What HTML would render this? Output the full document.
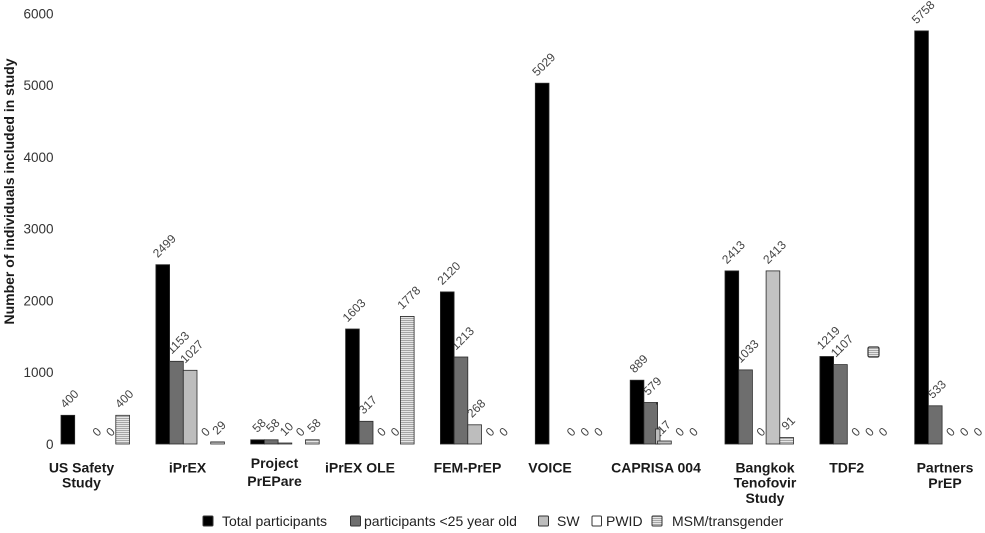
<!DOCTYPE html>
<html>
<head>
<meta charset="utf-8">
<style>
  html,body{margin:0;padding:0;background:#fff;}
  svg{display:block;}
  .tick{font-family:"Liberation Sans",sans-serif;font-size:13.5px;fill:#333;}
  .val{font-family:"Liberation Sans",sans-serif;font-size:12px;fill:#444;}
  .cat{font-family:"Liberation Sans",sans-serif;font-size:14px;font-weight:bold;fill:#1a1a1a;}
  .leg{font-family:"Liberation Sans",sans-serif;font-size:14px;fill:#222;}
  .ttl{font-family:"Liberation Sans",sans-serif;font-size:14px;font-weight:bold;fill:#1a1a1a;}
</style>
</head>
<body>
<svg width="985" height="533" viewBox="0 0 985 533" xmlns="http://www.w3.org/2000/svg">
<defs>
  <pattern id="st" patternUnits="userSpaceOnUse" width="4" height="2">
    <rect x="0" y="0" width="4" height="2" fill="#e6e6e6"/>
    <rect x="0" y="0" width="4" height="1" fill="#a6a6a6"/>
  </pattern>
</defs>
<rect width="985" height="533" fill="#fff"/>

<!-- Y axis title -->
<text class="ttl" transform="translate(14,191.5) rotate(-90)" text-anchor="middle">Number of individuals included in study</text>

<!-- Y tick labels -->
<g class="tick" text-anchor="end">
  <text x="53.5" y="448.9">0</text>
  <text x="53.5" y="377.2">1000</text>
  <text x="53.5" y="305.4">2000</text>
  <text x="53.5" y="233.7">3000</text>
  <text x="53.5" y="161.9">4000</text>
  <text x="53.5" y="90.2">5000</text>
  <text x="53.5" y="18.4">6000</text>
</g>

<!-- Value labels (drawn before bars) -->
<g class="val" text-anchor="middle">
  <!-- US Safety -->
  <text transform="translate(69.35,398.7) rotate(-45)" dy="0.35em">400</text>
  <text transform="translate(96.75,431.8) rotate(-45)" dy="0.35em">0</text>
  <text transform="translate(110.45,431.8) rotate(-45)" dy="0.35em">0</text>
  <text transform="translate(124.15,398.7) rotate(-45)" dy="0.35em">400</text>
  <!-- iPrEX -->
  <text transform="translate(164.25,245.9) rotate(-45)" dy="0.35em">2499</text>
  <text transform="translate(177.95,342.5) rotate(-45)" dy="0.35em">1153</text>
  <text transform="translate(191.65,351.5) rotate(-45)" dy="0.35em">1027</text>
  <text transform="translate(205.35,431.8) rotate(-45)" dy="0.35em">0</text>
  <text transform="translate(219.05,427.5) rotate(-45)" dy="0.35em">29</text>
  <!-- Project PrEPare -->
  <text transform="translate(259.05,425.4) rotate(-45)" dy="0.35em">58</text>
  <text transform="translate(272.75,425.4) rotate(-45)" dy="0.35em">58</text>
  <text transform="translate(286.45,428.9) rotate(-45)" dy="0.35em">10</text>
  <text transform="translate(300.15,431.8) rotate(-45)" dy="0.35em">0</text>
  <text transform="translate(313.85,425.4) rotate(-45)" dy="0.35em">58</text>
  <!-- iPrEX OLE -->
  <text transform="translate(353.95,310.2) rotate(-45)" dy="0.35em">1603</text>
  <text transform="translate(367.65,404.7) rotate(-45)" dy="0.35em">317</text>
  <text transform="translate(381.35,431.8) rotate(-45)" dy="0.35em">0</text>
  <text transform="translate(395.05,431.8) rotate(-45)" dy="0.35em">0</text>
  <text transform="translate(408.75,297.6) rotate(-45)" dy="0.35em">1778</text>
  <!-- FEM-PrEP -->
  <text transform="translate(448.75,273.1) rotate(-45)" dy="0.35em">2120</text>
  <text transform="translate(462.45,338.2) rotate(-45)" dy="0.35em">1213</text>
  <text transform="translate(476.15,408.2) rotate(-45)" dy="0.35em">268</text>
  <text transform="translate(489.85,431.8) rotate(-45)" dy="0.35em">0</text>
  <text transform="translate(503.55,431.8) rotate(-45)" dy="0.35em">0</text>
  <!-- VOICE -->
  <text transform="translate(543.65,64.4) rotate(-45)" dy="0.35em">5029</text>
  <text transform="translate(571.05,431.8) rotate(-45)" dy="0.35em">0</text>
  <text transform="translate(584.75,431.8) rotate(-45)" dy="0.35em">0</text>
  <text transform="translate(598.45,431.8) rotate(-45)" dy="0.35em">0</text>
  <!-- CAPRISA 004 -->
  <text transform="translate(638.55,363.6) rotate(-45)" dy="0.35em">889</text>
  <text transform="translate(652.25,385.9) rotate(-45)" dy="0.35em">579</text>
  <text transform="translate(661.5,429.5) rotate(-45)" dy="0.35em">217</text>
  <text transform="translate(679.65,431.8) rotate(-45)" dy="0.35em">0</text>
  <text transform="translate(693.35,431.8) rotate(-45)" dy="0.35em">0</text>
  <!-- Bangkok -->
  <text transform="translate(733.35,252.1) rotate(-45)" dy="0.35em">2413</text>
  <text transform="translate(747.05,351.1) rotate(-45)" dy="0.35em">1033</text>
  <text transform="translate(760.75,431.8) rotate(-45)" dy="0.35em">0</text>
  <text transform="translate(774.45,252.1) rotate(-45)" dy="0.35em">2413</text>
  <text transform="translate(788.15,423.1) rotate(-45)" dy="0.35em">91</text>
  <!-- TDF2 -->
  <text transform="translate(828.25,337.7) rotate(-45)" dy="0.35em">1219</text>
  <text transform="translate(841.95,345.8) rotate(-45)" dy="0.35em">1107</text>
  <text transform="translate(855.65,431.8) rotate(-45)" dy="0.35em">0</text>
  <text transform="translate(869.35,431.8) rotate(-45)" dy="0.35em">0</text>
  <text transform="translate(883.05,431.8) rotate(-45)" dy="0.35em">0</text>
  <!-- Partners PrEP -->
  <text transform="translate(923.05,12.1) rotate(-45)" dy="0.35em">5758</text>
  <text transform="translate(936.75,389.2) rotate(-45)" dy="0.35em">533</text>
  <text transform="translate(950.45,431.8) rotate(-45)" dy="0.35em">0</text>
  <text transform="translate(964.15,431.8) rotate(-45)" dy="0.35em">0</text>
  <text transform="translate(977.85,431.8) rotate(-45)" dy="0.35em">0</text>
</g>

<!-- Bars -->
<g stroke="#2a2a2a" stroke-width="0.8">
  <!-- US Safety -->
  <rect x="61" y="415.3" width="13.7" height="28.7" fill="#000"/>
  <rect x="115.8" y="415.3" width="13.7" height="28.7" fill="url(#st)"/>
  <!-- iPrEX -->
  <rect x="155.9" y="264.7" width="13.7" height="179.3" fill="#000"/>
  <rect x="169.6" y="361.3" width="13.7" height="82.7" fill="#6e6e6e"/>
  <rect x="183.3" y="370.3" width="13.7" height="73.7" fill="#bdbdbd"/>
  <rect x="210.7" y="441.9" width="13.7" height="2.1" fill="url(#st)"/>
  <!-- Project PrEPare -->
  <rect x="250.7" y="439.8" width="13.7" height="4.2" fill="#000"/>
  <rect x="264.4" y="439.8" width="13.7" height="4.2" fill="#6e6e6e"/>
  <rect x="278.1" y="443.0" width="13.7" height="1.0" fill="#bdbdbd"/>
  <rect x="305.5" y="439.8" width="13.7" height="4.2" fill="url(#st)"/>
  <!-- iPrEX OLE -->
  <rect x="345.6" y="329.0" width="13.7" height="115.0" fill="#000"/>
  <rect x="359.3" y="421.3" width="13.7" height="22.7" fill="#6e6e6e"/>
  <rect x="400.4" y="316.4" width="13.7" height="127.6" fill="url(#st)"/>
  <!-- FEM-PrEP -->
  <rect x="440.4" y="291.9" width="13.7" height="152.1" fill="#000"/>
  <rect x="454.1" y="357.0" width="13.7" height="87.0" fill="#6e6e6e"/>
  <rect x="467.8" y="424.8" width="13.7" height="19.2" fill="#bdbdbd"/>
  <!-- VOICE -->
  <rect x="535.3" y="83.2" width="13.7" height="360.8" fill="#000"/>
  <!-- CAPRISA 004 -->
  <rect x="630.2" y="380.2" width="13.7" height="63.8" fill="#000"/>
  <rect x="643.9" y="402.5" width="13.7" height="41.5" fill="#6e6e6e"/>
  <rect x="655.5" y="429.0" width="4.5" height="15.0" fill="#bdbdbd"/>
  <rect x="657.6" y="441.0" width="13.7" height="3.0" fill="#bdbdbd"/>
  <!-- Bangkok -->
  <rect x="725.0" y="270.9" width="13.7" height="173.1" fill="#000"/>
  <rect x="738.7" y="369.9" width="13.7" height="74.1" fill="#6e6e6e"/>
  <rect x="766.1" y="270.9" width="13.7" height="173.1" fill="#c2c2c2"/>
  <rect x="779.8" y="437.5" width="13.7" height="6.5" fill="url(#st)"/>
  <!-- TDF2 -->
  <rect x="819.9" y="356.5" width="13.7" height="87.5" fill="#000"/>
  <rect x="833.6" y="364.6" width="13.7" height="79.4" fill="#6e6e6e"/>
  <rect x="868" y="347" width="11" height="10" rx="1.5" fill="url(#st)" stroke="#333" stroke-width="1.2"/>
  <!-- Partners PrEP -->
  <rect x="914.7" y="30.9" width="13.7" height="413.1" fill="#000"/>
  <rect x="928.4" y="405.8" width="13.7" height="38.2" fill="#6e6e6e"/>
</g>
<rect x="656" y="402" width="1.5" height="2.5" fill="#333"/>

<!-- Category labels -->
<g class="cat" text-anchor="middle">
  <text x="81.5" y="472.5">US Safety</text>
  <text x="81.5" y="487.5">Study</text>
  <text x="187.5" y="472.5">iPrEX</text>
  <text x="274.5" y="468">Project</text>
  <text x="274.5" y="486">PrEPare</text>
  <text x="360" y="472.5">iPrEX OLE</text>
  <text x="467.5" y="472.5">FEM-PrEP</text>
  <text x="550" y="472.5">VOICE</text>
  <text x="656" y="472.5">CAPRISA 004</text>
  <text x="765" y="472.5">Bangkok</text>
  <text x="765" y="487.5">Tenofovir</text>
  <text x="765" y="503">Study</text>
  <text x="846.7" y="472.5">TDF2</text>
  <text x="945" y="472.5">Partners</text>
  <text x="945" y="488">PrEP</text>
</g>

<!-- Legend -->
<g stroke="#333" stroke-width="1">
  <rect x="203" y="516" width="10" height="10" rx="1" fill="#000"/>
  <rect x="350.5" y="516" width="10" height="10" rx="1" fill="#6e6e6e"/>
  <rect x="538.5" y="516" width="10" height="10" rx="1" fill="#bdbdbd"/>
  <rect x="592" y="516" width="9.5" height="10" rx="1" fill="#fff"/>
  <rect x="652" y="516" width="10" height="10" rx="1" fill="url(#st)"/>
</g>
<g class="leg">
  <text x="222" y="526">Total participants</text>
  <text x="364" y="526">participants &lt;25 year old</text>
  <text x="557" y="526">SW</text>
  <text x="606" y="526">PWID</text>
  <text x="672" y="526">MSM/transgender</text>
</g>
</svg>
</body>
</html>
